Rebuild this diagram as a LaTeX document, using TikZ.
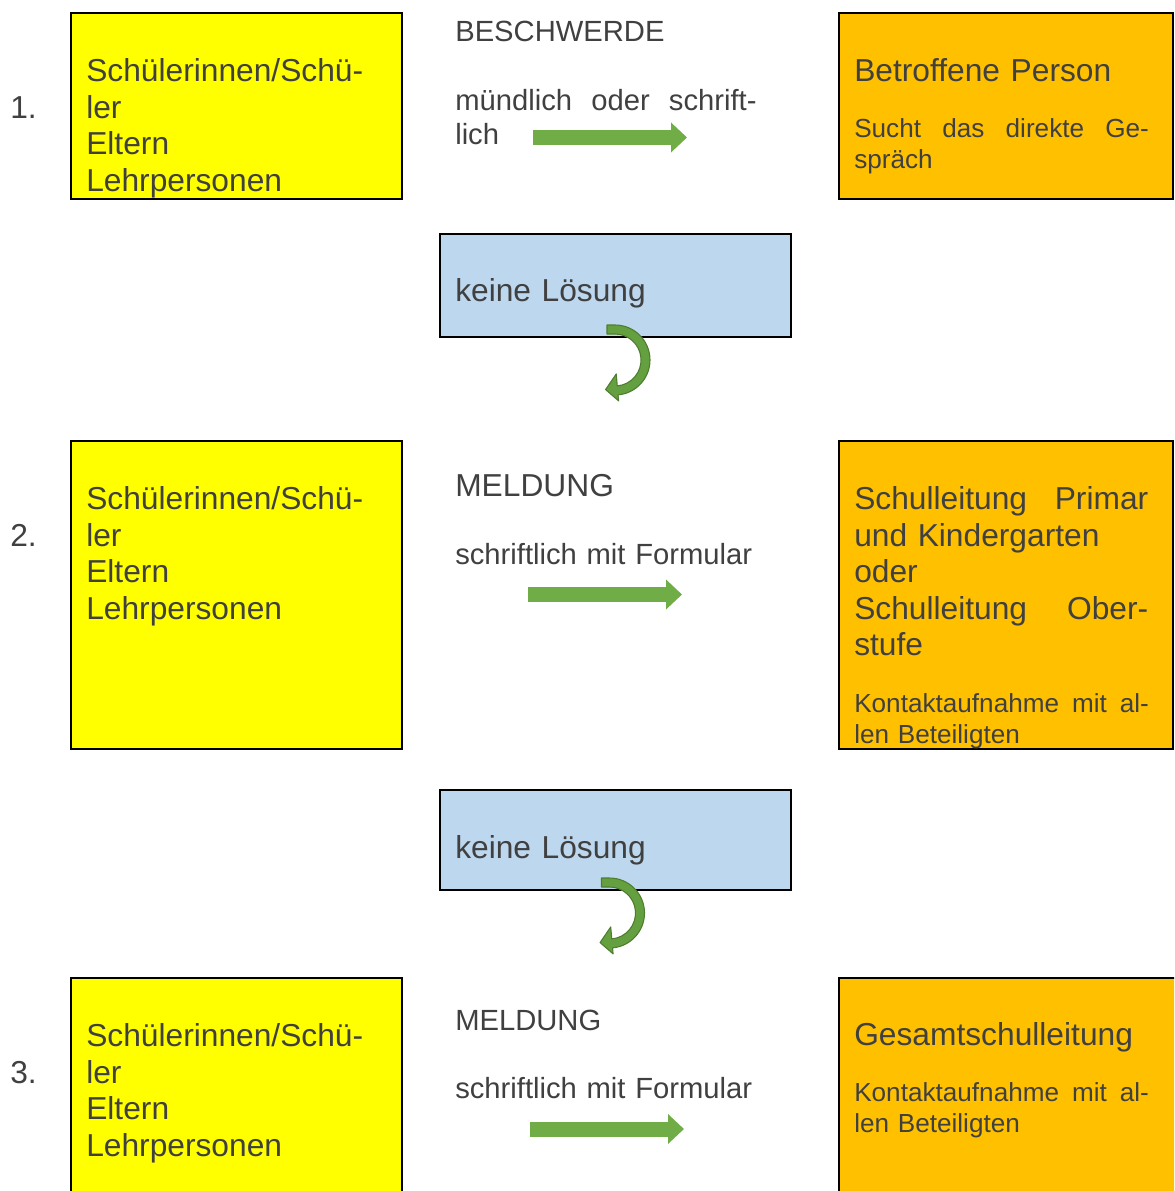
\documentclass[tikz,border=0pt]{standalone}
\usepackage{fontspec}
\setmainfont{Liberation Sans}
\usepackage{tikz}
\usetikzlibrary{arrows.meta,calc}
\def\px{0.75pt}
\definecolor{txtgray}{HTML}{404040}
\definecolor{boxyellow}{HTML}{FFFF00}
\definecolor{boxorange}{HTML}{FFC000}
\definecolor{boxblue}{HTML}{BDD7EE}
\definecolor{arrowgreen}{HTML}{70AD47}
\definecolor{curvegreen}{HTML}{64A03F}
\definecolor{curveedge}{HTML}{4E7D30}

\begin{document}
\begin{tikzpicture}[x=\px, y=\px]
		\tikzstyle{box}=[draw=black, line width=1.5pt, inner sep=0pt, outer sep=0pt, anchor=north west]
		\tikzstyle{bigtxt}=[inner sep=0pt, text=txtgray, align=left, text width=225pt, font=\fontsize{23.8pt}{27.4pt}\selectfont]
		\tikzstyle{midtxt}=[bigtxt, text width=226pt, font=\fontsize{21.9pt}{25.3pt}\selectfont]
		\tikzstyle{smalltxt}=[bigtxt, text width=221pt, font=\fontsize{19.6pt}{23.25pt}\selectfont]
		\tikzstyle{blockarrow}=[draw=arrowgreen, line width=11.25pt, -{Triangle[length=12pt, width=21.75pt]}]
		\tikzstyle{curvearrow}=[fill=curvegreen, draw=curveedge, line width=0.8pt, line join=round]
		
		\useasboundingbox (0,0) rectangle (1174,-1191);
		\clip (0,0) rectangle (1174,-1191);
		
		% Draw the yellow boxes with their numbers
		\foreach \n/\ytop/\hgt in {1/13/186, 2/441/308, 3/978/260}{
			\node[box, fill=boxyellow, minimum width=331*\px, minimum height=\hgt*\px] (Y-\n) at (71,-\ytop) {};
			\node[bigtxt, anchor=base west] (YT-\n) at ([shift={(15,-68.7)}]Y-\n.north west) {Schülerinnen/Schü-\\ler\\Eltern\\Lehrpersonen};
			\node[bigtxt, text width=40pt, anchor=base west] (N-\n) at ([shift={(-61,-105.3)}]Y-\n.north west) {\n.};
		}
		
		% Draw the orange boxes
		\node[box, fill=boxorange, minimum width=333.5*\px, minimum height=186*\px] (O-1) at (839,-13) {};
		\node[box, fill=boxorange, minimum width=333.5*\px, minimum height=307.5*\px] (O-2) at (839,-441) {};
		\node[box, fill=boxorange, minimum width=360*\px, minimum height=260*\px] (O-3) at (839,-978) {};
		
		\node[bigtxt, text width=220.5pt, anchor=base west] (OT-1) at ([shift={(15,-68.5)}]O-1.north west) {Betroffene Person};
		\node[smalltxt, anchor=base west] (OS-1) at ([shift={(15,-124.5)}]O-1.north west) {Sucht\hfill das\hfill direkte\hfill Ge-\\spräch};
		\node[bigtxt, text width=220.5pt, anchor=base west] (OT-2) at ([shift={(15,-68.5)}]O-2.north west) {Schulleitung\hfill Primar\\und Kindergarten\\oder\\Schulleitung\hfill Ober-\\stufe};
		\node[smalltxt, anchor=base west] (OS-2) at ([shift={(15,-271.5)}]O-2.north west) {Kontaktaufnahme\hfill mit\hfill al-\\len Beteiligten};
		\node[bigtxt, text width=220.5pt, anchor=base west] (OT-3) at ([shift={(15,-67.5)}]O-3.north west) {Gesamtschulleitung};
		\node[smalltxt, anchor=base west] (OS-3) at ([shift={(15,-123.5)}]O-3.north west) {Kontaktaufnahme\hfill mit\hfill al-\\len Beteiligten};
		
		% Draw the texts in the middle column
		\node[midtxt, anchor=base west] (M-1) at (455,-42) {BESCHWERDE};
		\node[midtxt, anchor=base west] (W-1) at (455,-110.5) {mündlich\hfill oder\hfill schrift-\\lich};
		\node[bigtxt, anchor=base west] (M-2) at (455,-496) {MELDUNG};
		\node[midtxt, anchor=base west] (W-2) at (455,-564.5) {schriftlich mit Formular};
		\node[midtxt, anchor=base west] (M-3) at (455,-1030) {MELDUNG};
		\node[midtxt, anchor=base west] (W-3) at (455,-1098.5) {schriftlich mit Formular};
		
		% Draw the green arrows
		\coordinate (AS-1) at (533,-137.5);
		\coordinate (AE-1) at (687,-137.5);
		\coordinate (AS-2) at (528,-594.5);
		\coordinate (AE-2) at (682,-594.5);
		\coordinate (AS-3) at (530,-1129);
		\coordinate (AE-3) at (684,-1129);
		\foreach \n in {1,2,3}
		\draw[blockarrow] (AS-\n) -- (AE-\n);
		
		% Draw the blue boxes
		\node[box, fill=boxblue, minimum width=351*\px, minimum height=103*\px] (L-1) at (440,-234) {};
		\node[box, fill=boxblue, minimum width=351*\px, minimum height=100*\px] (L-2) at (440,-790) {};
		\node[bigtxt, anchor=base west] (LT-1) at ([shift={(15,-67)}]L-1.north west) {keine Lösung};
		\node[bigtxt, anchor=base west] (LT-2) at ([shift={(15,-68)}]L-2.north west) {keine Lösung};
		
		% Draw the curved arrows below the blue boxes
		\coordinate (K-1) at ([shift={(175,-23)}]L-1.south west);
		\coordinate (K-2) at ([shift={(169.5,-23)}]L-2.south west);
		\foreach \n in {1,2}{
			\begin{scope}[shift={(K-\n)}]
				\filldraw[curvearrow] (-8,35) -- (0,35) arc[start angle=90, end angle=-85, radius=35]
				-- (-85:41) -- ($(-85:28)+(-172:12)$) -- (-85:14) -- (-85:26)
				arc[start angle=-85, end angle=90, radius=26] -- (-8,26) -- cycle;
			\end{scope}
		}
\end{tikzpicture}
\end{document}
